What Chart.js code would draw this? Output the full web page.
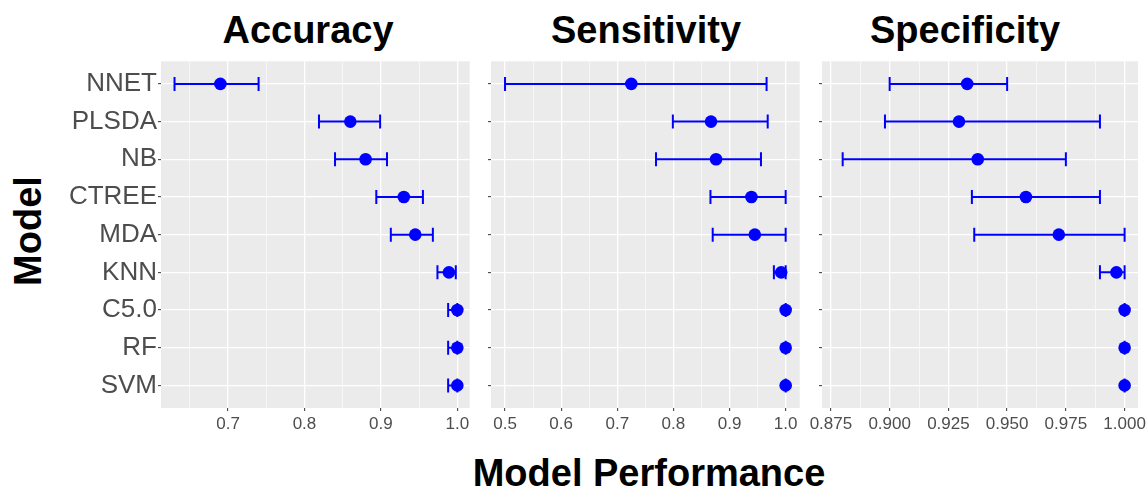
<!DOCTYPE html>
<html>
<head>
<meta charset="utf-8">
<script src="https://cdn.jsdelivr.net/npm/chart.js@4.4.1/dist/chart.umd.min.js"></script>
<style>
  body { margin: 0; background: #fff; width: 1146px; height: 490px; position: relative; overflow: hidden;
         font-family: 'Liberation Sans', Arial, sans-serif; }
  .t { position: absolute; font-weight: bold; font-size: 38px; line-height: 1; color: #000;
       white-space: nowrap; transform: translateX(-50%); }
  canvas { position: absolute; top: 55px; }
</style>
</head>
<body>
<div class="t" style="left:308px;top:11px">Accuracy</div>
<div class="t" style="left:646px;top:11px">Sensitivity</div>
<div class="t" style="left:965px;top:11px">Specificity</div>
<div class="t" style="left:28px;top:231px;transform:translate(-50%,-50%) rotate(-90deg)">Model</div>
<div class="t" style="left:649px;top:454px">Model Performance</div>

<canvas id="acc" width="416" height="385" style="left:60px"></canvas>
<canvas id="sens" width="330" height="385" style="left:476px"></canvas>
<canvas id="spec" width="340" height="385" style="left:806px"></canvas>

<script>
// ===== data =====
const models = ['NNET', 'PLSDA', 'NB', 'CTREE', 'MDA', 'KNN', 'C5.0', 'RF', 'SVM'];

const accMean = [0.690, 0.860, 0.880, 0.930, 0.945, 0.989, 1.000, 1.000, 1.000];
const accLow  = [0.630, 0.819, 0.840, 0.894, 0.913, 0.974, 0.988, 0.988, 0.988];
const accHigh = [0.740, 0.899, 0.908, 0.955, 0.968, 0.998, 1.000, 1.000, 1.000];

const sensMean = [0.725, 0.867, 0.876, 0.939, 0.945, 0.992, 1.000, 1.000, 1.000];
const sensLow  = [0.500, 0.799, 0.769, 0.866, 0.870, 0.979, 1.000, 1.000, 1.000];
const sensHigh = [0.966, 0.968, 0.956, 1.000, 1.000, 1.000, 1.000, 1.000, 1.000];

const specMean = [0.933, 0.9295, 0.9375, 0.958, 0.972, 0.9965, 1.000, 1.000, 1.000];
const specLow  = [0.900, 0.898, 0.880, 0.935, 0.936, 0.9895, 1.000, 1.000, 1.000];
const specHigh = [0.950, 0.9895, 0.975, 0.9895, 1.000, 1.000, 1.000, 1.000, 1.000];

const accTicks  = [0.7, 0.8, 0.9, 1.0];
const accMinor  = [0.65, 0.75, 0.85, 0.95];
const sensTicks = [0.5, 0.6, 0.7, 0.8, 0.9, 1.0];
const sensMinor = [0.55, 0.65, 0.75, 0.85, 0.95];
const specTicks = [0.875, 0.900, 0.925, 0.950, 0.975, 1.000];
const specMinor = [0.8875, 0.9125, 0.9375, 0.9625, 0.9875];

Chart.defaults.font.family = "'Liberation Sans', Arial, sans-serif";

const panelBg = {
  id: 'panelBg',
  beforeDraw(chart) {
    const { ctx, chartArea: a } = chart;
    ctx.save();
    ctx.fillStyle = '#EBEBEB';
    ctx.fillRect(a.left, a.top, a.right - a.left, a.bottom - a.top);
    ctx.restore();
  }
};

const errBars = {
  id: 'errBars',
  beforeDatasetsDraw(chart, args, opts) {
    const { ctx } = chart;
    const xs = chart.scales.x, ys = chart.scales.y;
    ctx.save();
    ctx.strokeStyle = '#0000FF';
    ctx.lineWidth = 2;
    opts.low.forEach((lo, i) => {
      const y = ys.getPixelForValue(i);
      const x1 = xs.getPixelForValue(lo);
      const x2 = xs.getPixelForValue(opts.high[i]);
      ctx.beginPath();
      ctx.moveTo(x1, y); ctx.lineTo(x2, y);
      ctx.moveTo(x1, y - 7); ctx.lineTo(x1, y + 7);
      ctx.moveTo(x2, y - 7); ctx.lineTo(x2, y + 7);
      ctx.stroke();
    });
    ctx.restore();
  }
};

function zeroPad(scale) {
  scale.paddingTop = 0; scale.paddingBottom = 0;
  scale.paddingLeft = 0; scale.paddingRight = 0;
}

function makePanel(id, mean, low, high, min, max, majors, minors, digits, yWidth, showNames, padRight) {
  new Chart(document.getElementById(id), {
    type: 'scatter',
    data: {
      datasets: [{
        data: mean.map((v, i) => ({ x: v, y: i })),
        backgroundColor: '#0000FF',
        borderWidth: 0,
        pointRadius: 6.3,
      }],
    },
    options: {
      responsive: false,
      animation: false,
      layout: { padding: { top: 5, right: padRight, left: 0, bottom: 0 } },
      plugins: {
        legend: { display: false },
        tooltip: { enabled: false },
        errBars: { low, high },
      },
      scales: {
        x: {
          type: 'linear',
          min, max,
          afterBuildTicks: (s) => {
            s.ticks = majors.concat(minors).sort((a, b) => a - b).map(v => ({ value: v }));
          },
          afterFit: (s) => { s.height = 32; zeroPad(s); },
          border: { display: false },
          grid: {
            color: '#FFFFFF',
            lineWidth: (c) => majors.includes(c.tick.value) ? 1.3 : 0.6,
            tickColor: (c) => majors.includes(c.tick.value) ? '#333333' : 'rgba(0,0,0,0)',
            tickLength: 3,
            tickWidth: 1,
          },
          ticks: {
            autoSkip: false,
            maxRotation: 0,
            padding: 3,
            color: '#4D4D4D',
            font: { size: 17 },
            callback: (v) => majors.includes(v) ? v.toFixed(digits) : '',
          },
        },
        y: {
          type: 'linear',
          min: -0.6, max: 8.6,
          reverse: true,
          afterBuildTicks: (s) => { s.ticks = models.map((m, i) => ({ value: i })); },
          afterFit: (s) => { s.width = yWidth; zeroPad(s); },
          border: { display: false },
          grid: {
            color: '#FFFFFF',
            lineWidth: 1.3,
            tickColor: '#333333',
            tickLength: 3,
            tickWidth: 1,
          },
          ticks: {
            autoSkip: false,
            padding: 1,
            color: '#4D4D4D',
            font: { size: 26 },
            callback: (v) => showNames ? models[v] : '',
          },
        },
      },
    },
    plugins: [panelBg, errBars],
  });
}

makePanel('acc', accMean, accLow, accHigh, 0.6123, 1.0162, accTicks, accMinor, 1, 101, true, 5);
makePanel('sens', sensMean, sensLow, sensHigh, 0.475, 1.025, sensTicks, sensMinor, 1, 15, false, 5);
makePanel('spec', specMean, specLow, specHigh, 0.8712, 1.0057, specTicks, specMinor, 3, 16, false, 8);
</script>
</body>
</html>
